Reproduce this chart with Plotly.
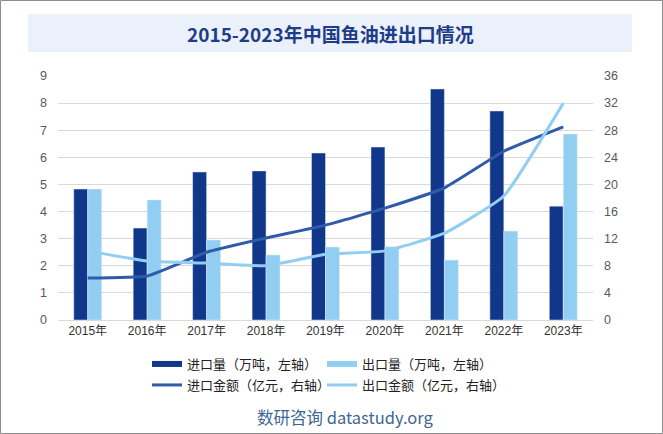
import plotly.graph_objects as go

years = ["2015年", "2016年", "2017年", "2018年", "2019年", "2020年", "2021年", "2022年", "2023年"]
import_qty = [4.83, 3.39, 5.46, 5.50, 6.16, 6.38, 8.52, 7.71, 4.20]
export_qty = [4.83, 4.43, 2.95, 2.40, 2.69, 2.70, 2.21, 3.28, 6.86]
import_amt = [6.2, 6.5, 10.0, 12.1, 14.0, 16.5, 19.5, 24.9, 28.5]
export_amt = [10.2, 8.7, 8.4, 8.0, 9.7, 10.2, 12.8, 18.3, 32.0]

names = ["进口量（万吨，左轴）", "出口量（万吨，左轴）", "进口金额（亿元，右轴）", "出口金额（亿元，右轴）"]

C_DARK = "#10378A"
C_LIGHT = "#92CEF2"
C_LINE = "#2F5BAA"

W, H = 663, 434
L, R, T, B = 58, 70, 76, 114
pw, ph = W - L - R, H - T - B


def px(x):
    return (x - L) / pw


def py(y):
    return (H - B - y) / ph


fig = go.Figure()
fig.add_bar(x=years, y=import_qty, name=names[0], marker_color=C_DARK, showlegend=False)
fig.add_bar(x=years, y=export_qty, name=names[1], marker_color=C_LIGHT, showlegend=False)
fig.add_scatter(x=years, y=import_amt, name=names[2], yaxis="y2", mode="lines",
                line=dict(color=C_LINE, width=3, shape="spline", smoothing=0.4), legend="legend2")
fig.add_scatter(x=years, y=export_amt, name=names[3], yaxis="y2", mode="lines",
                line=dict(color=C_LIGHT, width=3, shape="spline", smoothing=0.4), legend="legend2")
# legend proxies for bars
fig.add_scatter(x=[None], y=[None], name=names[0], mode="lines",
                line=dict(color=C_DARK, width=6), legend="legend")
fig.add_scatter(x=[None], y=[None], name=names[1], mode="lines",
                line=dict(color=C_LIGHT, width=6), legend="legend")

font_cjk = "Noto Sans CJK SC"
tickfont = dict(family="Liberation Sans, Arial", size=12.5, color="#595959")

fig.update_layout(
    width=W, height=H,
    margin=dict(l=L, r=R, t=T, b=B),
    paper_bgcolor="white", plot_bgcolor="white",
    barmode="group", bargap=0.53, bargroupgap=0,
    font=dict(family=font_cjk, color="#222222"),
    xaxis=dict(showline=True, linecolor="#D9D9D9", linewidth=1, ticks="",
               tickfont=dict(family="Liberation Sans, " + font_cjk, size=12, color="#333333"),
               showgrid=False, fixedrange=True),
    yaxis=dict(range=[0, 9], dtick=1, showgrid=True, gridcolor="#D9D9D9", gridwidth=1,
               zeroline=False, tickfont=tickfont, ticklabelstandoff=10),
    yaxis2=dict(range=[0, 36], dtick=4, overlaying="y", side="right", showgrid=False,
                zeroline=False, tickfont=tickfont, ticklabelstandoff=10),
    legend=dict(orientation="h", x=px(147), xanchor="left", y=py(364), yanchor="middle",
                entrywidth=130, entrywidthmode="pixels", itemwidth=30,
                font=dict(family=font_cjk, size=13, color="#222222"),
                bgcolor="rgba(0,0,0,0)", tracegroupgap=0),
    legend2=dict(orientation="h", x=px(147), xanchor="left", y=py(385), yanchor="middle",
                 entrywidth=130, entrywidthmode="pixels", itemwidth=30,
                 font=dict(family=font_cjk, size=13, color="#222222"),
                 bgcolor="rgba(0,0,0,0)", tracegroupgap=0),
    shapes=[
        dict(type="rect", xref="paper", yref="paper", x0=px(28), x1=px(632), y0=py(52), y1=py(14),
             fillcolor="#EAF1FB", line=dict(width=0), layer="below"),
        dict(type="rect", xref="paper", yref="paper", x0=px(0.5), x1=px(662.5), y0=py(433.5), y1=py(0.5),
             fillcolor="rgba(0,0,0,0)", line=dict(color="#8C8C8C", width=1), layer="below"),
    ],
    annotations=[
        dict(text="<b>2015-2023年中国鱼油进出口情况</b>", xref="paper", yref="paper",
             x=px(330), y=py(34), xanchor="center", yanchor="middle", showarrow=False,
             font=dict(family=font_cjk, size=19, color="#1F3C88")),
        dict(text="数研咨询 datastudy.org", xref="paper", yref="paper",
             x=px(345), y=py(417), xanchor="center", yanchor="middle", showarrow=False,
             font=dict(family=font_cjk, size=16.5, color="#3E6594")),
    ],
)

fig.write_html("out.html", config={"displayModeBar": False},
               post_script="document.body.style.margin='0';document.body.style.padding='0';")
